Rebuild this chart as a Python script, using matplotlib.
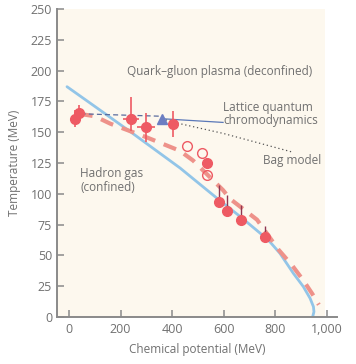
import matplotlib
matplotlib.use("Agg")
import matplotlib.pyplot as plt
import numpy as np

plt.rcParams["font.family"] = ["Open Sans", "DejaVu Sans"]

GREY = "#707070"
AXIS = "#8A8A8A"
CREAM = "#FDF8EE"
BLUE_LINE = "#92C5E8"
SALMON = "#EE928A"
RED = "#EE5A63"
DARK_BAR = "#8E3550"
TRI = "#6C7EC2"

# phase boundary (light blue, solid)
boundary_mu = [-8, 100, 241, 431, 583, 668, 774, 819, 871, 910, 936, 949, 951, 946]
boundary_T = [187, 171, 150, 121, 95, 81, 62.5, 51.7, 35.5, 24.6, 15.2, 8.4, 4.3, 0.2]

# freeze-out curve (salmon, dashed)
freeze_mu = [40, 100, 160, 300, 430, 482, 598, 625, 730, 812, 866, 909, 944, 970]
freeze_T = [165, 163, 157, 146, 135, 127, 103, 96, 79, 55, 42, 30, 19, 10]

# filled data points with symmetric error bars
pts_mu = [23, 39, 241, 297, 404]
pts_T = [161, 166, 161, 154, 157]
pts_Terr_lo = [7, 6, 10, 12, 11]
pts_Terr_hi = [7, 6, 18, 12, 10]
pts_muerr = [0, 0, 30, 35, 12]

# filled points with upward-only error bars
low_mu = [536, 583, 613, 668, 761]
low_T = [125, 93, 86, 79, 65]
low_Terr = [0, 14, 13, 12, 9]

# open circles
open_mu = [458, 516, 536]
open_T = [139, 133, 115]

# lattice QCD point
lat_mu = [361]
lat_T = [161]

# bag model line (dashed part then dotted part)
bag_dash_mu = [45, 361]
bag_dash_T = [165, 163]
bag_dot_mu = [361, 430, 600, 866]
bag_dot_T = [161, 157, 149, 134]

fig = plt.figure(figsize=(3.56, 3.64), dpi=100)
ax = fig.add_axes([0.160, 0.129, 0.787, 0.846])
ax.set_xlim(-47, 1041)
ax.set_ylim(0, 250)
ax.set_facecolor("white")
ax.axvspan(-47, 995, ymin=0, ymax=1.01, color=CREAM, zorder=0, lw=0)

ax.plot(boundary_mu, boundary_T, color=BLUE_LINE, lw=2.0, zorder=2,
        solid_capstyle="round", solid_joinstyle="round")
ax.plot(freeze_mu, freeze_T, color=SALMON, lw=3.0, dashes=(3.2, 2.2),
        zorder=2)
ax.plot(bag_dash_mu, bag_dash_T, color="#5A6C9E", lw=0.9,
        dashes=(4, 2.5), zorder=3)
ax.plot(bag_dot_mu, bag_dot_T, color="#555555", lw=0.9,
        dashes=(1, 2.2), zorder=3)
# lattice label leader
ax.plot([361, 598], [161, 158], color="#5A78B8", lw=0.9, zorder=3)

ax.errorbar(pts_mu, pts_T, yerr=[pts_Terr_lo, pts_Terr_hi], xerr=pts_muerr,
            fmt="o", ms=7, color=RED, ecolor=RED, elinewidth=1.2,
            capsize=0, zorder=5)
ax.errorbar(low_mu, low_T, yerr=[np.zeros(len(low_Terr)), low_Terr],
            fmt="o", ms=7, color=RED, ecolor=DARK_BAR, elinewidth=1.0,
            capsize=0, zorder=5)
ax.plot(open_mu, open_T, "o", ms=7, mfc="none", mec=RED, mew=1.0,
        zorder=5)
ax.plot(lat_mu, lat_T, "^", ms=7, color=TRI, zorder=6)

FS = 8.5
ax.text(225, 199, "Quark\u2013gluon plasma (deconfined)", fontsize=FS,
        color=GREY, va="center", ha="left")
ax.text(598, 164.5, "Lattice quantum\nchromodynamics", fontsize=FS,
        color=GREY, va="center", ha="left", linespacing=1.0)
ax.text(753, 127, "Bag model", fontsize=FS, color=GREY, va="center",
        ha="left")
ax.text(43, 111, "Hadron gas\n(confined)", fontsize=FS, color=GREY,
        va="center", ha="left", linespacing=1.05)

ax.set_xticks([0, 200, 400, 600, 800, 1000])
ax.set_xticklabels(["0", "200", "400", "600", "800", "1,000"])
ax.set_yticks(np.arange(0, 251, 25))
for s in ["top", "right"]:
    ax.spines[s].set_visible(False)
for s in ["left", "bottom"]:
    ax.spines[s].set_color(AXIS)
    ax.spines[s].set_linewidth(1.4)
ax.tick_params(direction="in", length=5, width=1.1, color=AXIS,
               labelcolor=GREY, labelsize=9)
ax.tick_params(axis="y", pad=3.5)
ax.tick_params(axis="x", pad=4.5)
ax.set_xlabel("Chemical potential (MeV)", fontsize=FS, color=GREY,
              labelpad=5)
ax.set_ylabel("Temperature (MeV)", fontsize=FS, color=GREY, labelpad=7)

fig.savefig("out.png", dpi=100, facecolor="white")
